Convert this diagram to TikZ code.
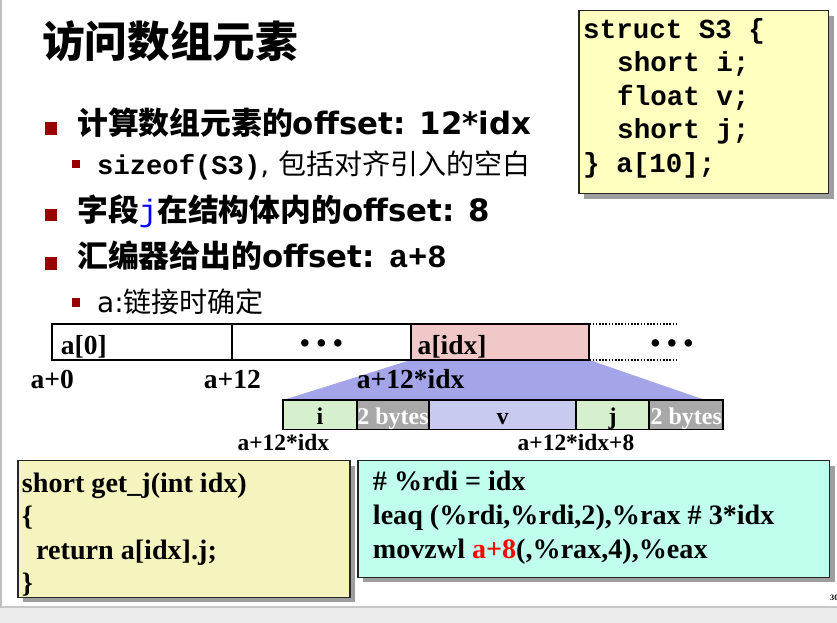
\documentclass[tikz,border=0pt]{standalone}
\usepackage{fontspec}
\setmainfont{Liberation Serif}
\setsansfont{DejaVu Sans}
\setmonofont{Liberation Mono}
\newfontfamily\cjk{Noto Sans CJK SC}
\usetikzlibrary{positioning,shadows,backgrounds}

\definecolor{bulletred}{RGB}{153,0,0}
\definecolor{structyellow}{RGB}{255,255,192}
\definecolor{codeyellow}{RGB}{246,244,190}
\definecolor{asmcyan}{RGB}{192,255,238}
\definecolor{idxpink}{RGB}{240,200,200}
\definecolor{trapez}{RGB}{164,164,232}
\definecolor{fieldgreen}{RGB}{214,240,206}
\definecolor{fieldlav}{RGB}{200,202,240}
\definecolor{padgray}{RGB}{168,168,168}
\definecolor{stripgray}{RGB}{235,235,235}

\newdimen\pxu
\pxu=0.03cm
\newcommand{\fsz}[1]{\fontsize{#1}{#1}\selectfont}

\begin{document}
\begin{tikzpicture}[x=0.03cm,y=-0.03cm,
  bul/.style={fill=bulletred,inner sep=0pt,minimum size=12.5\pxu},
  subbul/.style={fill=bulletred,inner sep=0pt,minimum size=8.5\pxu},
  txt/.style={anchor=base west,inner sep=0pt},
  lbl/.style={anchor=base,inner sep=0pt},
  arr/.style={font=\fsz{23.5}\bfseries},
  cell/.style={draw,line width=1.8\pxu,inner sep=0pt,outer sep=0pt,minimum height=36\pxu},
  field/.style={draw,line width=1.8\pxu,inner sep=0pt,outer sep=0pt,minimum height=29.5\pxu,
    text height=17pt,text depth=0pt,font=\fsz{20.5}\bfseries},
  codebox/.style={draw=black!85,line width=1.2\pxu,anchor=north west,inner sep=0pt,
    drop shadow={shadow xshift=5\pxu,shadow yshift=-5\pxu,fill=black!38,opacity=1}},
  mono/.style={font=\fsz{23.5}\ttfamily\bfseries},
  code/.style={font=\fsz{24}\bfseries}]

  \useasboundingbox (0,0) rectangle (837,623);
  \begin{pgfonlayer}{background}
    \fill[white] (0,0) rectangle (837,623);
  \end{pgfonlayer}
  \fill[stripgray] (0,607) rectangle (837,623);
  \draw[black!22,line width=1.5\pxu] (0,607) -- (837,607);
  \draw[black!25,line width=2\pxu] (1,0) -- (1,607);

  % title and bullets
  \node[txt,font=\fsz{36.4}\bfseries\cjk] (title) at (42,58) {访问数组元素};

  \node[bul] (b1) at (51,128.5) {};
  \node[txt,font=\fsz{26.3}\bfseries] (t1) at (77,135)
    {\cjk 计算数组元素的\sffamily offset: 12*idx};
  \node[subbul] (s1) at (76,164) {};
  \node[txt,font=\fsz{23.9}] (u1) at (97,175)
    {{\ttfamily\bfseries\fsz{23.2}sizeof(S3)}\sffamily, \cjk 包括对齐引入的空白};
  \node[bul] (b2) at (51,215) {};
  \node[txt,font=\fsz{26.3}\bfseries] (t2) at (77,221.7)
    {\cjk 字段{\ttfamily\mdseries\color{blue}j}在结构体内的\sffamily offset: 8};
  \node[bul] (b3) at (51,263.5) {};
  \node[txt,font=\fsz{26.3}\bfseries] (t3) at (77,268)
    {\cjk 汇编器给出的\sffamily offset: \ttfamily\fsz{27.5}a+8};
  \node[subbul] (s2) at (76,302.5) {};
  \node[txt,font=\fsz{23.9}] (u2) at (97,313) {\sffamily a:\cjk 链接时确定};

  % struct declaration
  \node[codebox,fill=structyellow,minimum width=249.7\pxu,minimum height=183\pxu] (s3) at (578.3,10) {};
  \node[txt,mono] (s3a) at (583,38.5) {struct S3 \{};
  \node[txt,mono] (s3b) at (617,72) {short i;};
  \node[txt,mono] (s3c) at (617,105.5) {float v;};
  \node[txt,mono] (s3d) at (617,139) {short j;};
  \node[txt,mono] (s3e) at (583,172.5) {\} a[10];};

  % array
  \node[cell,anchor=north west,minimum width=180\pxu] (a0) at (52.3,324) {};
  \node[cell,minimum width=178.4\pxu,right=0pt of a0] (amid) {};
  \node[cell,fill=idxpink,minimum width=178.6\pxu,right=0pt of amid] (aidx) {};
  \node[txt,arr] (a0t) at (60.7,354.5) {a[0]};
  \node[arr,inner sep=0pt] (amidt) at ([yshift=-4\pxu]amid.center) {• • •};
  \node[txt,arr] (aidxt) at (417.5,354.5) {a[idx]};
  \coordinate (dn) at (677,324);
  \coordinate (ds) at (677,360);
  \draw[line width=1.8\pxu,dash pattern=on 1.6\pxu off 1.6\pxu] (aidx.north east) -- (dn);
  \draw[line width=1.8\pxu,dash pattern=on 1.6\pxu off 1.6\pxu] (aidx.south east) -- (ds);
  \node[arr,inner sep=0pt] (moret) at (672,346) {• • •};

  \node[lbl,arr] (l0) at ([yshift=-28\pxu]a0.south west) {a+0};
  \node[lbl,arr] (l12) at ([yshift=-28\pxu]amid.south west) {a+12};
  \node[lbl,arr] (lidx) at ([yshift=-28\pxu]aidx.south west) {a+12*idx};

  % one element
  \node[field,fill=fieldgreen,anchor=north west,minimum width=73.4\pxu] (fi) at (283.3,400) {i};
  \node[field,fill=padgray,text=white,minimum width=72.6\pxu,right=0pt of fi] (fp1) {2 bytes};
  \node[field,fill=fieldlav,minimum width=146.7\pxu,right=0pt of fp1] (fv) {v};
  \node[field,fill=fieldgreen,minimum width=73.3\pxu,right=0pt of fv] (fj) {j};
  \node[field,fill=padgray,text=white,minimum width=74\pxu,right=0pt of fj] (fp2) {2 bytes};
  \coordinate (tzr) at (705,400);
  \begin{pgfonlayer}{background}
    \fill[trapez] (aidx.south west) -- (aidx.south east) -- (tzr) -- (fi.north west) -- cycle;
  \end{pgfonlayer}

  \node[lbl,font=\fsz{20}\bfseries] (li) at ([yshift=-20.5\pxu]fi.south west) {a+12*idx};
  \node[lbl,font=\fsz{20}\bfseries] (lj) at ([yshift=-20.5\pxu]fj.south west) {a+12*idx+8};

  % C code and assembly
  \node[codebox,fill=codeyellow,minimum width=332\pxu,minimum height=136.7\pxu] (getj) at (17.3,460) {};
  \node[txt,code] (g1) at (21.7,492.3) {short get\_j(int idx)};
  \node[txt,code] (g2) at (21.7,525.7) {\{};
  \node[txt,code] (g3) at (36,559) {return a[idx].j;};
  \node[txt,code] (g4) at (21.7,592.3) {\}};

  \node[codebox,fill=asmcyan,minimum width=471.7\pxu,minimum height=116.7\pxu] (asm) at (357.3,460) {};
  \node[txt,code] (m1) at (372.7,490.5) {\# \%rdi = idx};
  \node[txt,code] (m2) at (372.7,524.5) {leaq (\%rdi,\%rdi,2),\%rax \# 3*idx};
  \node[txt,code] (m3) at (372.7,558.3) {movzwl {\color{red}a+8}(,\%rax,4),\%eax};

  \node[txt,font=\fsz{7}\bfseries] (pg) at (830,600) {30};
\end{tikzpicture}
\end{document}
